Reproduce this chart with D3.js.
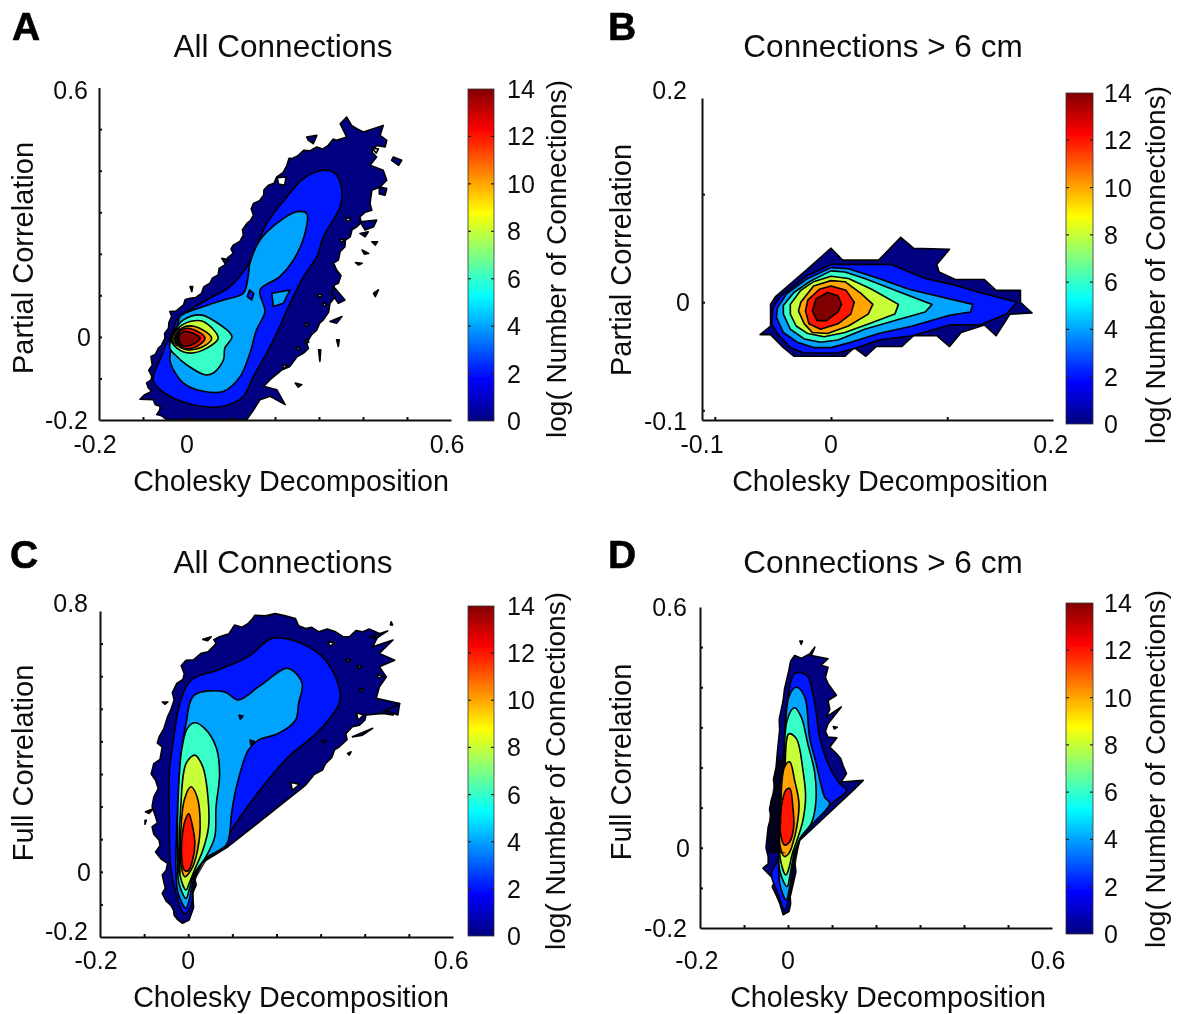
<!DOCTYPE html>
<html><head><meta charset="utf-8">
<script src="https://cdn.jsdelivr.net/npm/d3@7"></script>
<style>html,body{margin:0;padding:0;background:#fff}svg{display:block}text{font-family:"Liberation Sans",Arial,sans-serif;fill:#0c0c0c}</style>
</head><body><svg id="c" width="1177" height="1014"></svg>
<script>
// Contour bands: [level, [[x,y],...]]; level -1 = empty hole, level -2 = bunched contour lines
const panelAContours=[
[0,[[-.046,-.199],[-.058,-.190],[-.069,-.187],[-.062,-.176],[-.061,-.167],[-.072,-.163],[-.077,-.151],[-.107,-.150],[-.096,-.139],[-.080,-.131],[-.088,-.122],[-.092,-.111],[-.082,-.104],[-.080,-.095],[-.087,-.080],[-.079,-.068],[-.082,-.047],[-.072,-.042],[-.065,-.027],[-.058,-.020],[-.050,-.003],[-.051,.008],[-.042,.021],[-.041,.035],[-.035,.049],[-.039,.061],[-.025,.062],[-.008,.077],[-.004,.090],[.007,.093],[.020,.095],[.033,.105],[.038,.120],[.052,.129],[.058,.142],[.071,.149],[.073,.165],[.086,.173],[.092,.190],[.105,.201],[.100,.212],[.105,.221],[.120,.230],[.128,.245],[.126,.258],[.136,.273],[.144,.280],[.151,.293],[.146,.308],[.151,.321],[.165,.328],[.174,.341],[.175,.354],[.185,.365],[.198,.370],[.204,.385],[.218,.395],[.227,.413],[.232,.430],[.238,.429],[.252,.436],[.265,.449],[.280,.448],[.295,.457],[.308,.452],[.321,.461],[.332,.476],[.340,.473],[.363,.481],[.348,.513],[.363,.529],[.374,.509],[.386,.501],[.401,.493],[.446,.509],[.439,.485],[.454,.473],[.450,.457],[.431,.461],[.420,.445],[.431,.433],[.416,.413],[.446,.401],[.454,.377],[.439,.361],[.420,.353],[.416,.321],[.420,.305],[.405,.300],[.393,.289],[.396,.275],[.386,.265],[.375,.258],[.371,.241],[.360,.233],[.359,.217],[.348,.205],[.344,.185],[.333,.178],[.340,.161],[.350,.148],[.344,.129],[.335,.125],[.333,.113],[.338,.098],[.325,.081],[.322,.060],[.310,.041],[.302,.034],[.295,.017],[.283,.005],[.272,-.015],[.276,-.028],[.265,-.039],[.250,-.048],[.234,-.071],[.215,-.080],[.189,-.103],[.174,-.119],[.204,-.127],[.223,-.163],[.189,-.143],[.166,-.151],[.150,-.178],[.136,-.199]]],
[0,[[.272,.481],[.295,.485],[.287,.465],[.276,.473]]],
[0,[[.469,.433],[.488,.425],[.481,.413],[.465,.425]]],
[0,[[.437,.361],[.454,.357],[.450,.341],[.437,.344]]],
[0,[[.420,.229],[.433,.229],[.428,.221]]],
[0,[[.398,.209],[.413,.201],[.403,.199]]],
[0,[[.383,.179],[.398,.177],[.390,.173]]],
[0,[[.424,.105],[.435,.113],[.428,.097]]],
[0,[[.340,-.007],[.346,-.007],[.344,-.023]]],
[0,[[.299,-.031],[.304,-.031],[.302,-.059]]],
[0,[[.246,-.111],[.261,-.115],[.253,-.121]]],
[0,[[.007,.121],[.013,.121],[.011,.109]]],
[0,[[.079,.189],[.098,.185],[.086,.177]]],
[0,[[.333,.121],[.359,.089],[.344,.081],[.329,.105]]],
[0,[[.325,.037],[.352,.049],[.340,.033]]],
[0,[[.393,.277],[.431,.281],[.424,.265],[.405,.257]]],
[0,[[.393,.249],[.412,.253],[.405,.241]]],
[-1,[[.205,.383],[.225,.385],[.222,.365],[.208,.368]]],
[-1,[[.420,.455],[.435,.452],[.430,.442]]],
[-1,[[.360,.287],[.372,.285],[.366,.276]]],
[-1,[[.347,.236],[.356,.234],[.351,.226]]],
[-1,[[.298,.104],[.308,.100],[.300,.094]]],
[-1,[[.310,.083],[.318,.078],[.310,.073]]],
[-1,[[.269,.034],[.277,.030],[.270,.024]]],
[-1,[[.269,-.007],[.277,-.012],[.270,-.017]]],
[-1,[[.250,-.023],[.258,-.029],[.250,-.032]]],
[-1,[[.218,-.066],[.228,-.070],[.220,-.076]]],
[2,[[-.077,-.103],[-.058,-.047],[-.046,-.015],[-.035,.001],[-.023,.041],[.007,.065],[.052,.093],[.098,.121],[.136,.169],[.158,.217],[.181,.273],[.227,.337],[.265,.381],[.310,.401],[.337,.393],[.352,.353],[.348,.313],[.310,.241],[.295,.193],[.265,.145],[.234,.081],[.204,.009],[.181,-.039],[.151,-.095],[.128,-.143],[.083,-.167],[.030,-.167],[-.031,-.147],[-.061,-.127]]],
[4,[[-.039,-.055],[-.035,-.023],[-.020,.033],[-.016,.049],[.037,.073],[.083,.089],[.128,.105],[.139,.145],[.143,.177],[.166,.233],[.204,.273],[.249,.301],[.272,.297],[.268,.249],[.242,.185],[.211,.145],[.166,.113],[.177,.061],[.158,.017],[.143,-.039],[.121,-.095],[.083,-.131],[.037,-.131],[-.008,-.111],[-.031,-.079]]],
[4,[[.193,.105],[.234,.113],[.219,.081],[.196,.073]]],
[2,[[.142,.113],[.152,.105],[.147,.089],[.137,.097]]],
[6,[[-.039,-.027],[-.027,.017],[-.008,.041],[.030,.053],[.064,.037],[.102,.001],[.086,-.027],[.083,-.055],[.060,-.087],[.041,-.091],[-.001,-.067],[-.027,-.043]]],
[8,[[-.035,-.007],[-.020,.021],[.007,.037],[.037,.037],[.071,-.003],[.045,-.027],[.007,-.039],[-.023,-.027]]],
[10,[[-.027,-.003],[-.012,.021],[.018,.025],[.056,-.003],[.037,-.023],[-.001,-.031],[-.022,-.019]]],
[12,[[-.023,-.003],[-.012,.017],[.014,.018],[.041,-.003],[.022,-.023],[-.008,-.027]]],
[14,[[-.020,-.003],[-.008,.013],[.011,.010],[.030,-.003],[.011,-.019],[-.008,-.022]]],
[-2,[[-.040,.005],[-.030,.022],[-.016,.022],[-.016,-.020],[-.028,-.025],[-.038,-.012]]]
];
const panelBContours=[
[0,[[-.061,-.030],[-.052,-.022],[-.052,-.002],[-.048,.005],[-.023,.028],[0,.050],[.010,.039],[.041,.039],[.060,.060],[.071,.050],[.102,.049],[.091,.035],[.093,.028],[.107,.021],[.132,.021],[.142,.011],[.163,.011],[.163,0],[.173,-.010],[.154,-.011],[.142,-.031],[.132,-.021],[.112,-.028],[.102,-.041],[.091,-.031],[.071,-.031],[.061,-.041],[.039,-.041],[.030,-.050],[.020,-.042],[.012,-.050],[-.032,-.050],[-.042,-.041],[-.052,-.030]]],
[2,[[-.051,-.020],[-.050,-.005],[-.044,.005],[-.020,.025],[0,.035],[.052,.035],[.081,.022],[.102,.017],[.128,.009],[.160,0],[.151,-.011],[.128,-.021],[.102,-.021],[.070,-.031],[.041,-.035],[.023,-.042],[.006,-.047],[-.023,-.047],[-.035,-.042],[-.046,-.029]]],
[4,[[-.047,-.014],[-.046,-.005],[-.038,.008],[-.020,.022],[0,.032],[.015,.031],[.041,.022],[.067,.012],[.102,.003],[.122,-.002],[.120,-.009],[.102,-.012],[.070,-.022],[.041,-.029],[.017,-.037],[0,-.042],[-.015,-.042],[-.029,-.037],[-.041,-.028]]],
[6,[[-.041,-.011],[-.041,-.003],[-.032,.009],[-.017,.020],[0,.029],[.012,.028],[.029,.022],[.055,.011],[.087,-.002],[.081,-.009],[.058,-.016],[.029,-.025],[.006,-.035],[-.009,-.037],[-.023,-.034],[-.035,-.025]]],
[8,[[-.035,-.011],[-.035,-.002],[-.026,.011],[-.015,.019],[0,.024],[.015,.022],[.035,.012],[.058,-.002],[.055,-.011],[.035,-.019],[.012,-.028],[-.006,-.032],[-.020,-.029],[-.030,-.022]]],
[10,[[-.028,-.008],[-.026,0],[-.015,.015],[0,.020],[.012,.019],[.026,.008],[.036,-.002],[.032,-.011],[.015,-.022],[-.003,-.029],[-.016,-.028],[-.023,-.020]]],
[12,[[-.022,-.008],[-.020,.002],[-.010,.012],[0,.015],[.013,.011],[.020,0],[.017,-.011],[.006,-.020],[-.009,-.025],[-.019,-.020]]],
[14,[[-.016,-.008],[-.013,.003],[-.003,.009],[.006,.006],[.009,-.002],[.006,-.009],[-.004,-.017],[-.012,-.017]]]
];
const panelCContours=[
[0,[[-.013,-.158],[-.024,-.147],[-.032,-.133],[-.033,-.118],[-.040,-.102],[-.050,-.090],[-.059,-.066],[-.052,-.050],[-.059,-.010],[-.050,.005],[-.047,.026],[-.062,.040],[-.074,.061],[-.064,.080],[-.066,.097],[-.078,.115],[-.082,.138],[-.070,.150],[-.074,.169],[-.082,.200],[-.078,.230],[-.068,.255],[-.074,.281],[-.084,.300],[-.078,.332],[-.064,.345],[-.059,.383],[-.070,.395],[-.066,.414],[-.055,.440],[-.047,.475],[-.040,.495],[-.032,.527],[-.036,.550],[-.026,.578],[-.012,.590],[-.009,.608],[-.016,.632],[-.005,.649],[.012,.650],[.029,.670],[.045,.675],[.063,.700],[.058,.712],[.071,.721],[.092,.730],[.105,.757],[.122,.750],[.136,.762],[.145,.775],[.151,.787],[.175,.785],[.197,.792],[.220,.785],[.243,.777],[.250,.755],[.266,.746],[.280,.750],[.296,.736],[.315,.745],[.334,.736],[.350,.722],[.365,.721],[.380,.740],[.395,.736],[.410,.745],[.433,.731],[.418,.690],[.464,.711],[.433,.670],[.468,.649],[.433,.629],[.449,.598],[.433,.567],[.426,.532],[.479,.516],[.464,.481],[.441,.486],[.403,.481],[.400,.465],[.388,.450],[.372,.445],[.357,.424],[.360,.405],[.342,.383],[.332,.375],[.325,.350],[.311,.332],[.304,.312],[.285,.298],[.266,.266],[.090,.077],[.029,.026],[.014,-.015],[.018,-.040],[.010,-.066],[.012,-.110],[.002,-.148]]],
[0,[[.033,.713],[.052,.721],[.044,.709]]],
[0,[[-.097,.184],[-.078,.194],[-.089,.179]]],
[0,[[-.098,.158],[-.095,.158],[-.098,.146]]],
[0,[[.460,.767],[.463,.757],[.458,.757]]],
[0,[[.372,.414],[.418,.440],[.395,.419]]],
[0,[[.361,.363],[.369,.368],[.365,.358]]],
[0,[[.441,.491],[.479,.516],[.475,.481],[.456,.491]]],
[0,[[-.059,.521],[-.046,.521],[-.053,.514]]],
[0,[[.411,.721],[.452,.739],[.426,.716]]],
[-1,[[.316,.705],[.332,.703],[.322,.692]]],
[-1,[[.357,.652],[.368,.650],[.360,.643]]],
[-1,[[.383,.633],[.394,.630],[.386,.623]]],
[-1,[[.388,.561],[.398,.559],[.390,.552]]],
[-1,[[.427,.605],[.441,.600],[.432,.593]]],
[-1,[[.381,.487],[.398,.482],[.385,.465]]],
[-1,[[.232,.275],[.252,.268],[.236,.250]]],
[-1,[[.303,.404],[.312,.400],[.305,.395]]],
[2,[[-.009,-.128],[-.028,-.066],[-.040,.015],[-.043,.179],[-.043,.302],[-.036,.383],[-.017,.527],[.006,.588],[.067,.619],[.136,.660],[.189,.716],[.235,.711],[.273,.690],[.311,.649],[.342,.567],[.342,.516],[.311,.455],[.273,.404],[.227,.353],[.151,.230],[.094,.118],[.082,.082],[.037,.036],[.014,-.026],[.006,-.107]]],
[4,[[-.005,-.112],[-.023,-.066],[-.028,.015],[-.023,.220],[-.017,.343],[-.005,.455],[.014,.542],[.082,.552],[.113,.527],[.159,.567],[.220,.624],[.235,.619],[.258,.578],[.250,.516],[.243,.465],[.204,.424],[.159,.404],[.136,.373],[.113,.281],[.098,.179],[.094,.118],[.086,.082],[.037,.038],[.014,-.015],[.002,-.087]]],
[2,[[.115,.480],[.124,.478],[.118,.468]]],
[2,[[.140,.404],[.150,.400],[.142,.390]]],
[6,[[-.005,-.082],[-.021,-.036],[-.024,.026],[-.023,.220],[-.015,.373],[-.002,.440],[.014,.457],[.037,.440],[.063,.383],[.071,.302],[.063,.199],[.060,.107],[.040,.046],[.014,-.005],[.002,-.056]]],
[8,[[-.005,-.056],[-.018,-.015],[-.021,.056],[-.017,.199],[-.005,.332],[.015,.358],[.033,.322],[.043,.251],[.046,.138],[.033,.066],[.014,.005],[.002,-.036]]],
[10,[[-.008,-.015],[-.017,.026],[-.017,.118],[-.009,.220],[.006,.261],[.020,.230],[.027,.138],[.021,.066],[.010,.015],[-.002,-.010]]],
[12,[[-.009,.005],[-.015,.046],[-.013,.118],[-.007,.158],[.001,.179],[.010,.138],[.015,.087],[.010,.036],[0,.003]]],
[-2,[[-.026,-.005],[-.023,.077],[-.017,.077],[-.017,-.005]]],
[-2,[[.010,-.046],[.014,-.010],[.037,.031],[.044,.041],[.020,-.015]]]
];
const panelDContours=[
[0,[[-.011,-.167],[-.019,-.138],[-.024,-.125],[-.036,-.097],[-.030,-.085],[-.038,-.072],[-.057,-.051],[-.045,-.040],[-.045,-.022],[-.050,.000],[-.045,.052],[-.038,.075],[-.042,.095],[-.038,.119],[-.030,.145],[-.033,.170],[-.027,.201],[-.024,.240],[-.019,.293],[-.020,.320],[-.011,.367],[-.008,.395],[.002,.442],[.006,.465],[.015,.479],[.030,.472],[.049,.483],[.061,.500],[.053,.479],[.091,.471],[.075,.455],[.091,.450],[.085,.425],[.091,.409],[.110,.380],[.091,.367],[.095,.345],[.087,.326],[.121,.351],[.091,.309],[.085,.290],[.091,.276],[.111,.274],[.095,.251],[.110,.235],[.120,.222],[.125,.205],[.133,.185],[.121,.164],[.171,.168],[.148,.143],[.027,.019],[.015,-.031],[.018,-.060],[.005,-.122],[.006,-.140],[.002,-.159]]],
[0,[[.027,.515],[.033,.515],[.030,.507]]],
[0,[[.103,.302],[.112,.300],[.105,.296]]],
[2,[[-.008,-.155],[-.023,-.114],[-.038,-.064],[-.023,-.031],[-.015,.069],[-.011,.218],[-.002,.359],[.015,.434],[.042,.430],[.061,.359],[.072,.276],[.091,.210],[.117,.160],[.133,.143],[.095,.106],[.027,.023],[.015,-.031],[.004,-.114]]],
[4,[[-.004,-.130],[-.019,-.089],[-.019,-.014],[-.013,.069],[-.008,.218],[.002,.376],[.019,.400],[.038,.376],[.049,.276],[.064,.210],[.083,.127],[.095,.110],[.057,.061],[.027,.023],[.013,-.031],[.004,-.097]]],
[6,[[-.002,-.097],[-.019,-.056],[-.019,.027],[-.010,.168],[-.002,.318],[.015,.349],[.030,.326],[.045,.259],[.061,.185],[.063,.110],[.053,.061],[.027,.023],[.011,-.031],[.004,-.072]]],
[8,[[-.005,-.068],[-.017,-.031],[-.019,.036],[-.008,.168],[.002,.284],[.019,.272],[.034,.193],[.040,.127],[.034,.069],[.023,.027],[.010,-.014],[.002,-.051]]],
[10,[[-.008,-.022],[-.019,.011],[-.017,.102],[-.008,.201],[.004,.214],[.015,.168],[.025,.110],[.020,.052],[.011,.011],[.002,-.014]]],
[12,[[-.008,.007],[-.017,.036],[-.015,.102],[-.005,.143],[.004,.148],[.011,.102],[.013,.052],[.004,.015]]],
[-2,[[-.045,-.014],[-.045,.052],[-.038,.119],[-.027,.201],[-.019,.234],[-.014,.218],[-.015,.069],[-.019,-.006],[-.004,-.014]]],
[-2,[[.010,-.010],[.027,.019],[.018,-.040],[.010,-.050]]]
];
const colorbarTicks=[0,2,4,6,8,10,12,14];
const xMinorAB8=[-.1,0,.1,.2,.3,.4,.5];
const yMinorA=[-.1,0,.1,.2,.3,.4,.5];
const xMinorB=[-.1,0,.1];
const yMinorB=[-.1,0,.1];
const yMinorC=[-.1,0,.1,.2,.3,.4,.5,.6,.7];
const yMinorD=[-.1,0,.1,.2,.3,.4,.5];
const xLabelsA=["-0.2","0","0.6"], xLabelsB=["-0.1","0","0.2"];
const yLabelsA=["-0.2","0","0.6"], yLabelsB=["-0.1","0","0.2"], yLabelsC=["-0.2","0","0.8"];

function jet(t){
  const c=v=>Math.round(255*Math.max(0,Math.min(1,v)));
  return d3.rgb(c(1.5-Math.abs(4*t-3)),c(1.5-Math.abs(4*t-2)),c(1.5-Math.abs(4*t-1))).formatHex();
}
const level=d3.scaleLinear().domain([0,14]).range([0,1]);

const panels=[
{letter:"A",lx:12,ly:40,title:"All Connections",tx:283,ty:57,contours:panelAContours,smooth:true,
 xd:[-.2,.6],xr:[99,451],yd:[-.2,.6],yr:[420,87.6],xt:xMinorAB8,yt:yMinorA,
 xl:xLabelsA,xa:[-.209,0,.591],yl:yLabelsA,ya:[-.2,0,.594],xly:453,ylx:88,
 xlab:"Cholesky Decomposition",xlx:291,xlb:491,ylab:"Partial Correlation",ylabx:33,ylaby:258,
 cb:[468,494,421,89],cbl:507,cbx:566,cby:259},
{letter:"B",lx:608,ly:40,title:"Connections > 6 cm",tx:883,ty:57,contours:panelBContours,smooth:false,
 xd:[-.111,.191],xr:[702,1053],yd:[-.109,.189],yr:[420,98],xt:xMinorB,yt:yMinorB,
 xl:xLabelsB,xa:[-.111,0,.189],yl:yLabelsB,ya:[-.110,0,.196],xly:453,ylx:687,
 xlab:"Cholesky Decomposition",xlx:890,xlb:491,ylab:"Partial Correlation",ylabx:631,ylaby:260,
 cb:[1066,1093,424,93],cbl:1104,cbx:1165,cby:265},
{letter:"C",lx:10,ly:568,title:"All Connections",tx:283,ty:573,contours:panelCContours,smooth:true,
 xd:[-.2,.6],xr:[100,453],yd:[-.2,.8],yr:[937,611],xt:xMinorAB8,yt:yMinorC,
 xl:xLabelsA,xa:[-.209,0,.596],yl:yLabelsC,ya:[-.181,0,.825],xly:969,ylx:88,
 xlab:"Cholesky Decomposition",xlx:291,xlb:1007,ylab:"Full Correlation",ylabx:33,ylaby:763,
 cb:[468,494,936,606],cbl:507,cbx:565,cby:771},
{letter:"D",lx:608,ly:568,title:"Connections > 6 cm",tx:883,ty:573,contours:panelDContours,smooth:true,
 xd:[-.2,.6],xr:[700,1052],yd:[-.2,.6],yr:[928,607],xt:xMinorAB8,yt:yMinorD,
 xl:xLabelsA,xa:[-.207,0,.591],yl:yLabelsA,ya:[-.201,0,.6],xly:969,ylx:687,
 xlab:"Cholesky Decomposition",xlx:888,xlb:1007,ylab:"Full Correlation",ylabx:631,ylaby:762,
 cb:[1066,1093,934,603],cbl:1104,cbx:1165,cby:769}
];

const svg=d3.select("#c");
svg.append("defs").append("filter").attr("id","soft").attr("x","-5%").attr("y","-5%").attr("width","110%").attr("height","110%")
  .append("feGaussianBlur").attr("stdDeviation",0.6);
const root=svg.append("g").attr("filter","url(#soft)");
root.append("rect").attr("width",1177).attr("height",1014).attr("fill","#fff");

panels.forEach(p=>{
  const g=root.append("g");
  const x=d3.scaleLinear().domain(p.xd).range(p.xr);
  const y=d3.scaleLinear().domain(p.yd).range(p.yr);
  const path=d3.line().x(d=>x(d[0])).y(d=>y(d[1]));
  g.selectAll("path.band").data(p.contours).join("path").attr("class","band")
    .attr("d",d=>{
      const smooth=p.smooth&&d[0]>=2&&d[1].length>4;
      return path.curve(smooth?d3.curveCatmullRomClosed.alpha(.5):d3.curveLinearClosed)(d[1]);
    })
    .attr("fill",d=>d[0]===-1?"#fff":d[0]===-2?"#000":jet(level(d[0])))
    .attr("fill-opacity",d=>d[0]===-2?.8:1)
    .attr("stroke",d=>d[0]===-2?"none":"#000").attr("stroke-width",1.6).attr("stroke-linejoin","round");
  // axes
  const ax=g.append("g").attr("transform",`translate(0,${p.yr[0]})`)
    .call(d3.axisBottom(x).tickValues(p.xt).tickSize(-3).tickSizeOuter(0).tickFormat(""));
  const ay=g.append("g").attr("transform",`translate(${p.xr[0]},0)`)
    .call(d3.axisLeft(y).tickValues(p.yt).tickSize(-3).tickSizeOuter(0).tickFormat(""));
  [ax,ay].forEach(a=>{a.selectAll("path,line").attr("stroke","#111").attr("stroke-width",2);});
  g.selectAll("text.xt").data(p.xl).join("text").attr("class","xt")
    .attr("x",(d,i)=>x(p.xa[i])).attr("y",p.xly).attr("text-anchor","middle").attr("font-size",25).text(d=>d);
  g.selectAll("text.yt").data(p.yl).join("text").attr("class","yt")
    .attr("x",d=>d==="0"?p.ylx+3:p.ylx).attr("y",(d,i)=>y(p.ya[i])+9).attr("text-anchor","end").attr("font-size",25).text(d=>d);
  g.append("text").attr("x",p.xlx).attr("y",p.xlb).attr("text-anchor","middle").attr("font-size",28.7).text(p.xlab);
  g.append("text").attr("transform",`translate(${p.ylabx},${p.ylaby}) rotate(-90)`).attr("text-anchor","middle").attr("font-size",29).text(p.ylab);
  g.append("text").attr("x",p.tx).attr("y",p.ty).attr("text-anchor","middle").attr("font-size",31.5).text(p.title);
  g.append("text").attr("x",p.lx).attr("y",p.ly).attr("font-size",39).attr("font-weight","bold").style("fill","#000").style("stroke","#000").style("stroke-width",.6).text(p.letter);
  // colorbar
  const cy=d3.scaleLinear().domain([0,14]).range([p.cb[2],p.cb[3]]);
  const steps=d3.range(0,14,0.05);
  g.selectAll("rect.cb").data(steps).join("rect").attr("class","cb")
    .attr("x",p.cb[0]).attr("width",p.cb[1]-p.cb[0])
    .attr("y",d=>cy(d+0.05)).attr("height",d=>cy(d)-cy(d+0.05))
    .attr("shape-rendering","crispEdges")
    .attr("fill",d=>jet(level(d)));
  g.append("rect").attr("x",p.cb[0]).attr("y",p.cb[3]).attr("width",p.cb[1]-p.cb[0]).attr("height",p.cb[2]-p.cb[3]).attr("fill","none").attr("stroke","#333").attr("stroke-width",.8);
  const ct=g.selectAll("g.ct").data(colorbarTicks.slice(1,-1)).join("g").attr("class","ct");
  ct.append("line").attr("x1",p.cb[0]).attr("x2",p.cb[0]+3).attr("y1",d=>cy(d)).attr("y2",d=>cy(d)).attr("stroke","#222").attr("stroke-width",1.2);
  ct.append("line").attr("x1",p.cb[1]-3).attr("x2",p.cb[1]).attr("y1",d=>cy(d)).attr("y2",d=>cy(d)).attr("stroke","#222").attr("stroke-width",1.2);
  g.selectAll("text.cl").data(colorbarTicks).join("text").attr("class","cl")
    .attr("x",p.cbl).attr("y",d=>cy(d)+9).attr("font-size",25).text(d=>d);
  g.append("text").attr("transform",`translate(${p.cbx},${p.cby}) rotate(-90)`).attr("text-anchor","middle").attr("font-size",28).text("log( Number of Connections)");
});
</script></body></html>
